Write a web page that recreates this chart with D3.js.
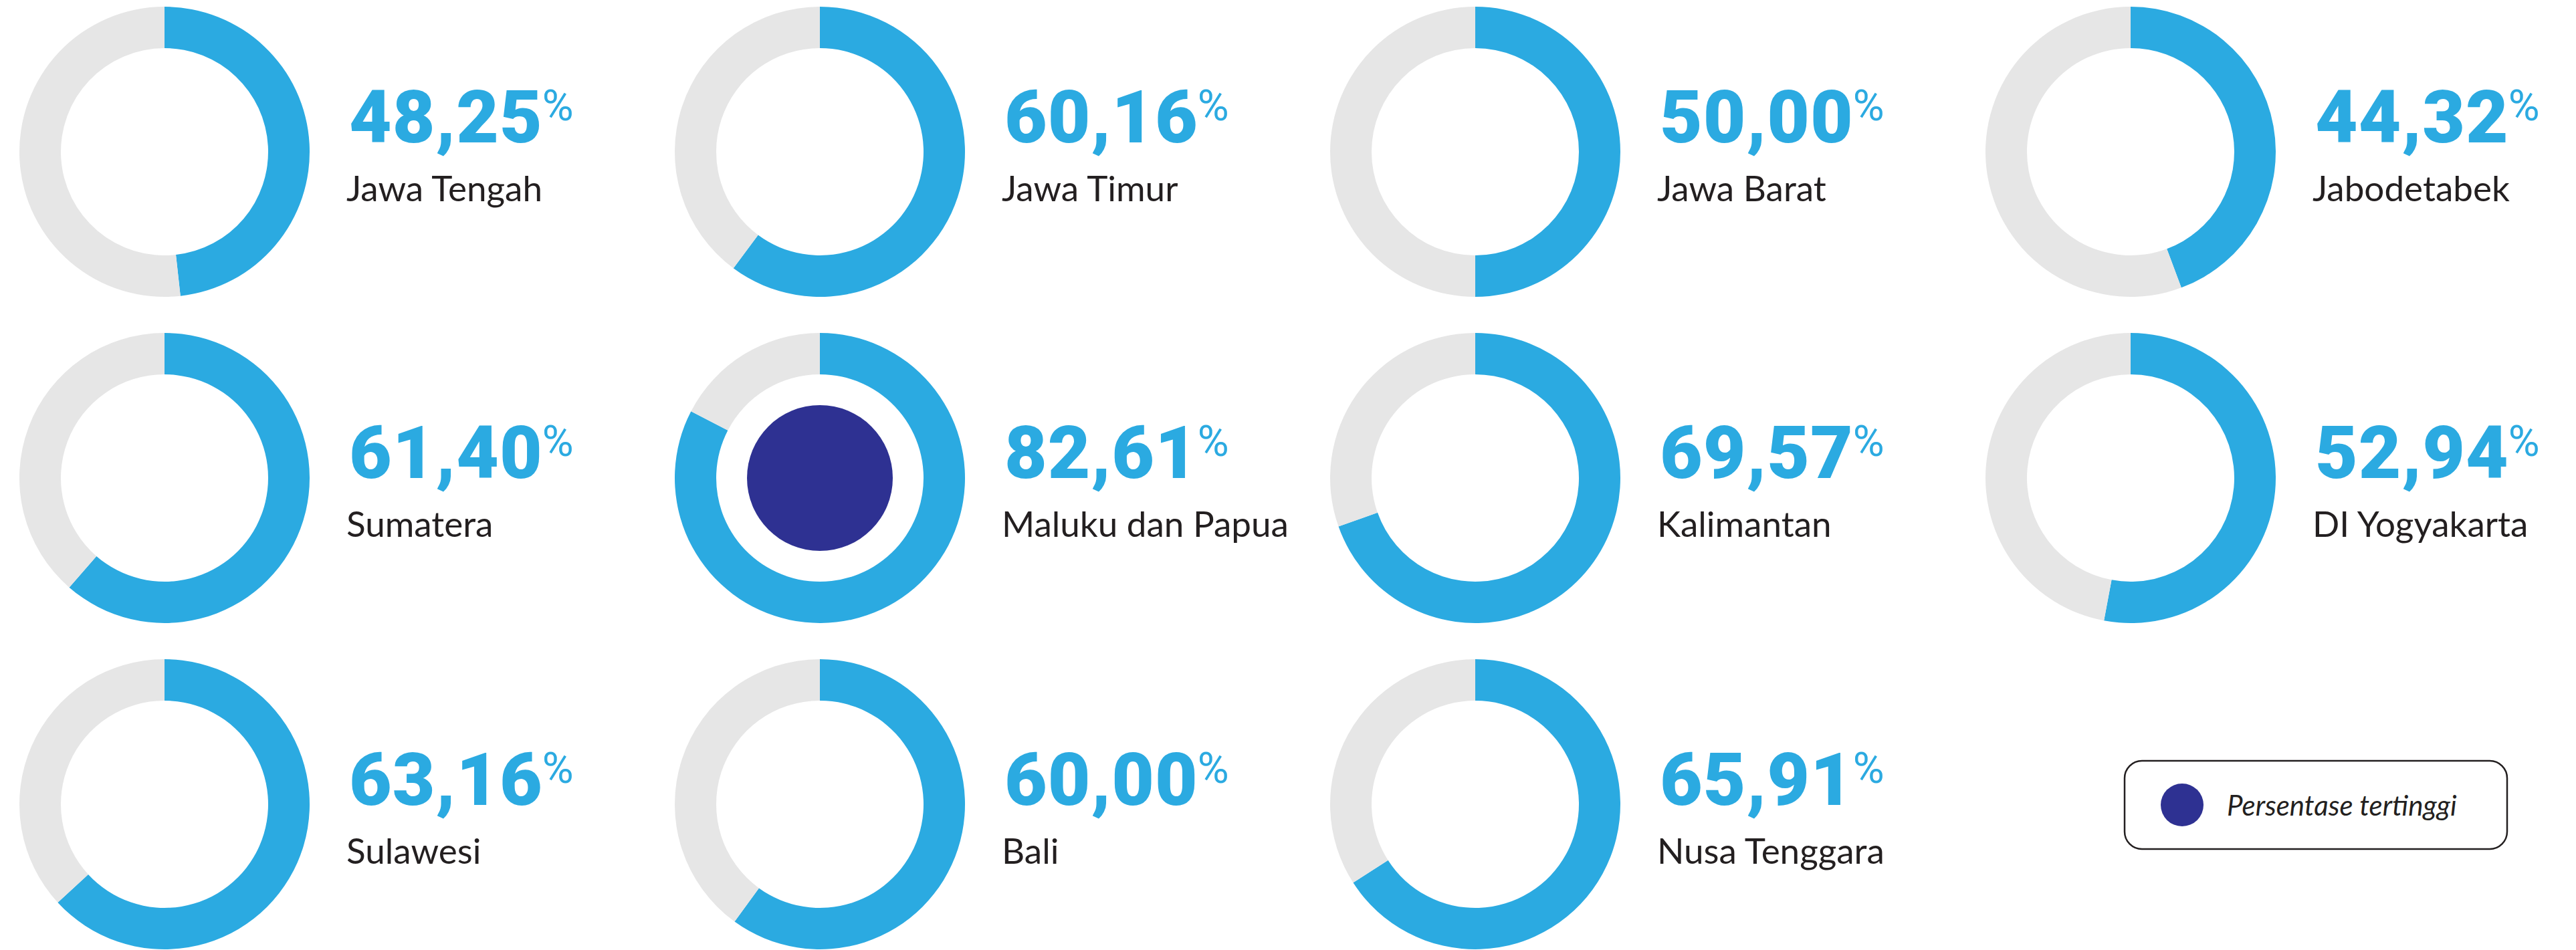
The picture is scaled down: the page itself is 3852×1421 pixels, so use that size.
<!DOCTYPE html>
<html>
<head>
<meta charset="utf-8">
<script src="https://cdn.jsdelivr.net/npm/d3@7"></script>
<style>
  html, body { margin: 0; padding: 0; background: #ffffff; }
  svg { display: block; }
</style>
</head>
<body>
<svg id="chart"></svg>
<script>
// Regional shares, one donut per region
const regions = [
  "Jawa Tengah", "Jawa Timur", "Jawa Barat", "Jabodetabek",
  "Sumatera", "Maluku dan Papua", "Kalimantan", "DI Yogyakarta",
  "Sulawesi", "Bali", "Nusa Tenggara"
];
const percentages = [
  48.25, 60.16, 50.00, 44.32,
  61.40, 82.61, 69.57, 52.94,
  63.16, 60.00, 65.91
];
const legendLabel = "Persentase tertinggi";

const W = 3852, H = 1421;
const BLUE = "#2BAAE1", GREY = "#E6E6E6", NAVY = "#2E3192", INK = "#231F20";

const svg = d3.select("#chart").attr("width", W).attr("height", H);

// Grid of 4 columns x 3 rows
const nCols = 4;
const colX = d3.scaleLinear().domain([0, 3]).range([246, 3186]);
const rowY = d3.scaleLinear().domain([0, 2]).range([227, 1203]);
const rowTextShift = [-14, 0, 1];

const outerR = 217, innerR = 155, highlightR = 109;

const pie = d3.pie().sort(null).value(d => d);
const arc = d3.arc().innerRadius(innerR).outerRadius(outerR);

const locale = d3.formatLocale({ decimal: ",", thousands: ".", grouping: [3], currency: ["", ""] });
const fmt = locale.format(".2f");

const maxVal = d3.max(percentages);

const data = regions.map((name, i) => ({
  name, value: percentages[i],
  col: i % nCols, row: Math.floor(i / nCols)
}));

const cell = svg.selectAll("g.cell")
  .data(data)
  .join("g")
  .attr("class", "cell")
  .attr("transform", d => `translate(${colX(d.col)},${rowY(d.row)})`);

cell.selectAll("path")
  .data(d => pie([d.value, 100 - d.value]))
  .join("path")
  .attr("d", arc)
  .attr("fill", (d, i) => i === 0 ? BLUE : GREY);

cell.filter(d => d.value === maxVal)
  .append("circle")
  .attr("r", highlightR)
  .attr("fill", NAVY);

// Value with a raised percent sign
const valueText = cell.append("text")
  .attr("x", 276)
  .attr("y", d => rowTextShift[d.row])
  .attr("fill", BLUE)
  .style("font-family", "Roboto, 'Liberation Sans', sans-serif");

valueText.append("tspan")
  .style("font-size", "110px")
  .style("font-weight", 900)
  .style("letter-spacing", "1px")
  .text(d => fmt(d.value));

valueText.append("tspan")
  .attr("dx", -1)
  .attr("dy", -33)
  .style("font-size", "64px")
  .style("font-weight", 400)
  .text("%");

cell.append("text")
  .attr("x", 272)
  .attr("y", d => rowTextShift[d.row] + 88)
  .attr("fill", INK)
  .style("font-family", "Lato, 'Open Sans', sans-serif")
  .style("font-size", "53px")
  .style("font-weight", 400)
  .text(d => d.name);

// Legend
const legend = svg.append("g").attr("transform", "translate(3177,1138)");
legend.append("rect")
  .attr("width", 572).attr("height", 132)
  .attr("rx", 26).attr("ry", 26)
  .attr("fill", "none")
  .attr("stroke", INK)
  .attr("stroke-width", 2.5);
legend.append("circle")
  .attr("cx", 86).attr("cy", 66).attr("r", 32)
  .attr("fill", NAVY);
legend.append("text")
  .attr("x", 153).attr("y", 82)
  .attr("fill", INK)
  .style("font-family", "Lato, 'Open Sans', sans-serif")
  .style("font-style", "italic")
  .style("font-size", "42px")
  .text(legendLabel);
</script>
</body>
</html>
